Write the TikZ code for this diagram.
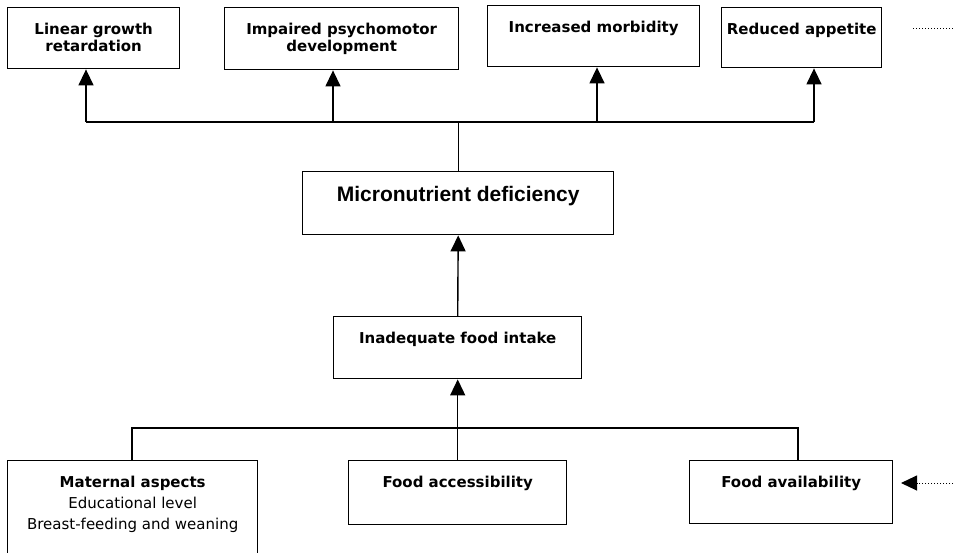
\documentclass[tikz,border=0pt]{standalone}
\usepackage{fontspec}
\setmainfont{DejaVu Sans}
\newfontfamily\headfont{Liberation Sans}
\usetikzlibrary{positioning,arrows.meta}

% fixed-size box contents, text set at the top
\newcommand{\boxtext}[3]{\parbox[c][#2][t]{#1}{\centering\vspace*{15pt}#3}}

\begin{document}
\begin{tikzpicture}[
  x=1pt, y=-1pt,
  box/.style={draw, line width=1.4pt, inner sep=0pt, anchor=north west,
    font=\fontsize{15}{17.5}\selectfont\bfseries},
  link/.style={line width=1.4pt},
  tip/.style={-{Triangle[length=16pt,width=15pt]}},
  arr/.style={link, tip},
  feed/.style={line width=1pt, dotted}
]
  \useasboundingbox (0,0) rectangle (955,553);
  \clip (0,0) rectangle (955,553);

  % effects
  \node (lgr) [box] at (7,7)   {\boxtext{172pt}{61pt}{Linear growth\\retardation}};
  \node (ipd) [box] at (224,7) {\boxtext{234pt}{62pt}{Impaired psychomotor\\development}};
  \node (inm) [box] at (487,5) {\boxtext{212pt}{61pt}{Increased morbidity}};
  \node (rap) [box] at (721,7) {\boxtext{160pt}{60pt}{Reduced appetite}};

  % core
  \node (mnd) [box, font=\headfont\fontsize{21}{24}\selectfont\bfseries] at (302,171)
    {\boxtext{311pt}{63pt}{Micronutrient deficiency}};
  \node (ifi) [box] at (333,316) {\boxtext{248pt}{62pt}{Inadequate food intake}};

  % causes
  \node (mat) [box, font=\fontsize{15}{21}\selectfont] at (7,460)
    {\boxtext{250pt}{100pt}{\textbf{Maternal aspects}\\Educational level\\Breast-feeding and weaning}};
  \node (fac) [box] at (348,460) {\boxtext{218pt}{64pt}{Food accessibility}};
  \node (fav) [box] at (689,460) {\boxtext{203pt}{63pt}{Food availability}};

  % upper bus
  \coordinate (up1) at (86,122);
  \coordinate (up2) at (333,122);
  \coordinate (up3) at (597,122);
  \coordinate (up4) at (814,122);
  \draw [link] (up1) -- (up4);
  \draw [link] (mnd.north) -- (mnd.north |- up1);
  \draw [arr] (up1) -- (up1 |- lgr.south);
  \draw [arr] (up2) -- (up2 |- ipd.south);
  \draw [arr] (up3) -- (up3 |- inm.south);
  \draw [arr] (up4) -- (up4 |- rap.south);

  \draw [arr] (ifi.north) -- (mnd.south);

  % lower bus
  \coordinate (lo1) at (132,428);
  \coordinate (lo3) at (798,428);
  \draw [link] (mat.north -| lo1) |- (lo3) -- (lo3 |- fav.north);
  \draw [arr] (fac.north) -- (ifi.south);

  % loose ends
  \coordinate (outL) at (913,29);
  \coordinate (outR) at (953,29);
  \draw [feed] (outL) -- (outR);
  \coordinate (inR) at (953,483);
  \coordinate (inL) at (901,483);
  \draw [feed, tip] (inR) -- (inL);
\end{tikzpicture}
\end{document}
